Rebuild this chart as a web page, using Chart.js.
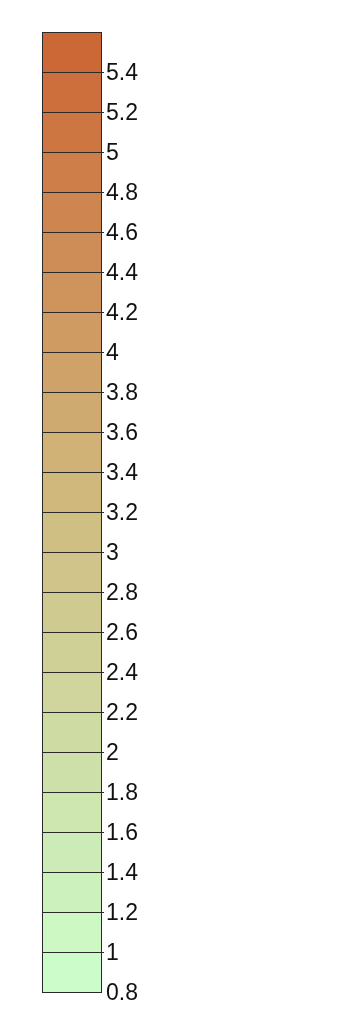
<!DOCTYPE html>
<html>
<head>
<meta charset="utf-8">
<script src="https://cdn.jsdelivr.net/npm/chart.js@4"></script>
<style>
    html, body { margin: 0; padding: 0; background: #ffffff; }
    #bar { display: block; }
</style>
</head>
<body>
<canvas id="bar" width="350" height="1033"></canvas>
<script>
// ─── Colorbar levels ───────────────────────────────────────────────────────────

const levels = [0.8, 1.0, 1.2, 1.4, 1.6, 1.8, 2.0, 2.2, 2.4, 2.6, 2.8, 3.0,
                3.2, 3.4, 3.6, 3.8, 4.0, 4.2, 4.4, 4.6, 4.8, 5.0, 5.2, 5.4, 5.6];
const tickLabels = ["0.8", "1", "1.2", "1.4", "1.6", "1.8", "2", "2.2", "2.4", "2.6",
                    "2.8", "3", "3.2", "3.4", "3.6", "3.8", "4", "4.2", "4.4", "4.6",
                    "4.8", "5", "5.2", "5.4"];

// pale green -> tan -> burnt orange
const stops = [
    [0.0, [204, 255, 204]],
    [0.5, [208, 188, 128]],
    [1.0, [204, 100, 50]],
];

function colorAt(t) {
    for (let i = 1; i < stops.length; i++) {
        const [t1, c1] = stops[i];
        const [t0, c0] = stops[i - 1];
        if (t <= t1) {
            const f = (t - t0) / (t1 - t0);
            const c = c0.map((v, k) => Math.round(v + (c1[k] - v) * f));
            return `rgb(${c[0]},${c[1]},${c[2]})`;
        }
    }
    const c = stops[stops.length - 1][1];
    return `rgb(${c[0]},${c[1]},${c[2]})`;
}

const lo = levels[0];
const hi = levels[levels.length - 1];

// one floating bar per band
const datasets = [];
for (let i = 0; i < levels.length - 1; i++) {
    const mid = (levels[i] + levels[i + 1]) / 2;
    datasets.push({
        data: [[levels[i], levels[i + 1]]],
        backgroundColor: colorAt((mid - lo) / (hi - lo)),
        borderWidth: 0,
        barPercentage: 1,
        categoryPercentage: 1,
        grouped: false,
    });
}

// band separators + outline, drawn over the bars
const frame = {
    id: "frame",
    afterDatasetsDraw(chart) {
        const { ctx, chartArea: a, scales: { y } } = chart;
        const left = Math.round(a.left);
        const right = Math.round(a.right);
        ctx.save();
        ctx.strokeStyle = "#2a2a2a";
        ctx.lineWidth = 1;
        ctx.beginPath();
        levels.slice(1, -1).forEach((v) => {
            const py = Math.round(y.getPixelForValue(v)) + 0.5;
            ctx.moveTo(left, py);
            ctx.lineTo(right + 2, py);
        });
        ctx.stroke();
        ctx.strokeRect(left + 0.5, Math.round(a.top) + 0.5,
                       right - left - 1, Math.round(a.bottom - a.top));
        ctx.restore();
    },
};

new Chart(document.getElementById("bar"), {
    type: "bar",
    data: { labels: [""], datasets },
    options: {
        responsive: false,
        animation: false,
        layout: { padding: { top: 32, bottom: 41, left: 42, right: 0 } },
        plugins: { legend: { display: false }, tooltip: { enabled: false } },
        scales: {
            x: { display: false },
            y: {
                type: "linear",
                position: "right",
                min: lo,
                max: hi,
                afterFit: (scale) => { scale.width = 248; },
                afterBuildTicks: (scale) => {
                    scale.ticks = levels.map((v) => ({ value: v }));
                },
                border: { display: false },
                grid: { display: false, drawTicks: false },
                ticks: {
                    padding: 4,
                    labelOffset: 2,
                    color: "#111111",
                    font: { size: 23, family: "'Liberation Sans', Arial, sans-serif" },
                    callback: (v, i) => tickLabels[i] ?? "",
                },
            },
        },
    },
    plugins: [frame],
});
</script>
</body>
</html>
